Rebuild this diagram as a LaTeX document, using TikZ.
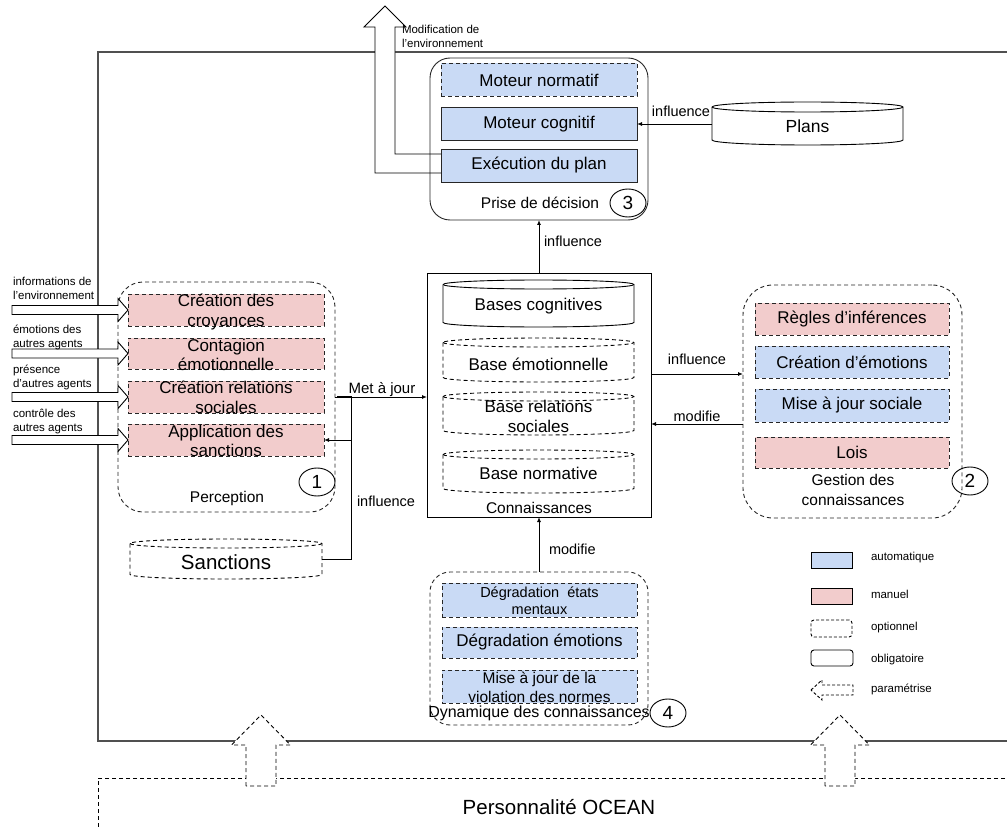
\documentclass[tikz,border=0pt]{standalone}
\usepackage{fontspec}
\setmainfont{Liberation Sans}
\usetikzlibrary{shapes.geometric,arrows.meta}
\definecolor{blueF}{HTML}{C9DAF5}
\definecolor{pinkF}{HTML}{F2CCCC}
\definecolor{frameC}{HTML}{505050}
\newcommand\myBox{\fontsize{17}{19.5}\selectfont}
\newcommand\myLab{\fontsize{15.5}{20}\selectfont}
\newcommand\myCon{\fontsize{14.5}{17}\selectfont}
\newcommand\mySm{\fontsize{11.5}{14}\selectfont}
\newcommand\myBig{\fontsize{20.5}{24}\selectfont}
\newcommand\myNum{\fontsize{19}{22}\selectfont}
\newcommand\drawcyl[4]{%
 \draw[#4] ([yshift=-#3]#1.north west) -- ([yshift=#3]#1.south west) arc[start angle=180,end angle=360,x radius=#2,y radius=#3] -- ([yshift=-#3]#1.north east) arc[start angle=0,end angle=180,x radius=#2,y radius=#3];
 \draw[#4] ([yshift=-#3]#1.north west) arc[start angle=180,end angle=360,x radius=#2,y radius=#3];}
\begin{document}
\begin{tikzpicture}[x=1pt,y=-1pt,
  every node/.style={inner sep=0pt, outer sep=0pt},
  dsh/.style={dash pattern=on 4pt off 3pt},
  bluebox/.style={draw=black!85, line width=0.9pt, fill=blueF, minimum width=196pt, minimum height=33pt, font=\myBox},
  pinkbox/.style={draw=black!85, line width=0.9pt, fill=pinkF, minimum width=196pt, minimum height=32pt, font=\myBox},
  grp/.style={draw=black!85, line width=0.9pt, rounded corners=22pt},
  num/.style={draw=black, line width=0.9pt, ellipse, minimum width=36pt, minimum height=28pt, font=\myNum},
  lab/.style={font=\myLab, align=center},
  con/.style={line width=0.9pt, -{Latex[length=5pt,width=4pt]}},
  clab/.style={font=\myCon},
  sm/.style={font=\mySm, align=left},
  bigarr/.style={draw=black, line width=0.9pt, fill=white},
  btxt/.style={font=\myBox, align=center},
]
\useasboundingbox (0,0) rectangle (1007,829);

% outer frame
\draw[frameC, line width=1.4pt] (1012,52) -- (98,52) -- (98,741) -- (1012,741);
% OCEAN
\draw[dsh, line width=0.9pt] (1012,778) -- (98,778) -- (98,835);
\node[font=\myBig] (ocean) at (559,807) {Personnalité OCEAN};
\foreach \c in {261,840}{
  \draw[dsh, line width=0.9pt, fill=white] (\c-15,786) -- (\c-15,745) -- (\c-29.5,745) -- (\c,715) -- (\c+29.5,745) -- (\c+15,745) -- (\c+15,786) -- cycle;
}

% decision
\node[grp, rounded corners=20pt, minimum width=218pt, minimum height=162pt] (dec) at (539,139) {};
\node[bluebox, dsh] (mn) at (539,80) {Moteur normatif};
\node[bluebox] (mc) at (539,124) {Moteur cognitif};
\node[bluebox] (ex) at (539,165.5) {Exécution du plan};
\node[lab] (declab) at (540,203) {Prise de décision};
\node[num] (n3) at (628,203) {3};

% modification arrow
\fill[white] (375,62) -- (375,27) -- (364,27) -- (385,6) -- (406,27) -- (395,27) -- (395,62) -- cycle;
\draw[line width=0.9pt] ([yshift=-7.5pt]ex.west) -- (375,173) -- (375,27) -- (364,27) -- (385,6) -- (406,27) -- (395,27) -- (395,154) -- ([yshift=11.5pt]ex.west);
\node[sm, anchor=north west] (modlab) at (402,25) {Modification de\\l'environnement};

% plans
\node[minimum width=191pt, minimum height=43pt] (plans) at (807.5,123.5) {};
\drawcyl{plans}{95.5pt}{5pt}{line width=0.9pt}
\node[font=\fontsize{17.5}{20}\selectfont] (plans-t) at ([yshift=-3pt]plans.center) {Plans};
\draw[con] (mc.east -| plans.west) -- (mc.east);
\node[clab, anchor=base] (l-pl) at (681,117) {influence};

% connaissances
\node[draw, line width=1pt, minimum width=224pt, minimum height=243pt] (conn) at (539,395.5) {};
\node[minimum width=191pt, minimum height=47pt] (bc) at (538.5,303.5) {};
\drawcyl{bc}{95.5pt}{4.5pt}{line width=0.9pt}
\node[btxt] (bc-t) at ([yshift=-3pt]bc.center) {Bases cognitives};
\node[minimum width=191pt, minimum height=44pt] (be) at (538.5,360) {};
\drawcyl{be}{95.5pt}{4.5pt}{line width=0.9pt, dsh}
\node[btxt] (be-t) at ([yshift=-4pt]be.center) {Base émotionnelle};
\node[minimum width=191pt, minimum height=43pt] (br) at (538.5,413.5) {};
\drawcyl{br}{95.5pt}{4.5pt}{line width=0.9pt, dsh}
\node[btxt] (br-t) at ([yshift=-3pt]br.center) {Base relations\\sociales};
\node[minimum width=191pt, minimum height=43pt] (bn) at (538.5,471.5) {};
\drawcyl{bn}{95.5pt}{4.5pt}{line width=0.9pt, dsh}
\node[btxt] (bn-t) at ([yshift=-2pt]bn.center) {Base normative};
\node[lab] (connlab) at (539,508) {Connaissances};
\draw[con] (conn.north) -- (dec.south);
\node[clab, anchor=base west] (l-cd) at (544,247) {influence};

% perception
\node[grp, dsh, rounded corners=25pt, minimum width=217pt, minimum height=230pt] (perc) at (226.5,397) {};
\node[pinkbox, dsh] (cc) at (226,310) {};
\node[btxt] (cc-t) at (226,312) {Création des\\croyances};
\node[pinkbox, dsh, minimum height=31pt] (ce) at (226,353.5) {};
\node[btxt] (ce-t) at (226,355) {Contagion\\émotionnelle};
\node[pinkbox, dsh] (cr) at (226,397) {};
\node[btxt] (cr-t) at (226,397.5) {Création relations\\sociales};
\node[pinkbox, dsh] (as) at (226,440) {};
\node[btxt] (as-t) at (226,441) {Application des\\sanctions};
\node[lab] (perclab) at (227,498) {Perception};
\node[num] (n1) at (317,482) {1};

% inputs
\foreach \b in {cc,ce,cr,as}{
  \draw[bigarr] (\b.west) -- ++(-10,-11.5) -- ++(0,7) -- ++(-106,0) -- ++(0,9) -- ++(106,0) -- ++(0,7) -- cycle;
}
\node[sm, anchor=west] (i1) at (13,288.5) {informations de\\l'environnement};
\node[sm, anchor=west] (i2) at (13,337) {émotions des\\autres agents};
\node[sm, anchor=west] (i3) at (13,377.5) {présence\\d'autres agents};
\node[sm, anchor=west] (i4) at (13,421.5) {contrôle des\\autres agents};

% sanctions
\node[minimum width=192pt, minimum height=40pt] (sanc) at (226,559) {};
\drawcyl{sanc}{96pt}{4.5pt}{line width=0.9pt, dsh}
\node[font=\myBig] (sanc-t) at ([yshift=-3.5pt]sanc.center) {Sanctions};
\coordinate (kink) at (351,396);
\draw[con] (sanc.east) -| (kink |- as.east) -- (as.east);
\draw[line width=0.9pt] (kink |- as.east) -- (kink) -- ++(-14,0);
\node[clab, anchor=base west] (l-sa) at (357,506) {influence};

% met a jour
\draw[con] (perc.east) -- (perc.east -| conn.west);
\node[clab, font=\fontsize{15}{17}\selectfont, anchor=base] (l-maj) at (382,393) {Met à jour};

% gestion
\node[grp, dsh, rounded corners=30pt, minimum width=219pt, minimum height=233pt] (gest) at (852.5,401.5) {};
\node[pinkbox, dsh, minimum width=194pt] (ri) at (852,319) {Règles d’inférences};
\node[bluebox, dsh, minimum width=194pt, minimum height=32pt] (cem) at (852,362) {Création d’émotions};
\node[bluebox, dsh, minimum width=194pt] (ms) at (852,405.5) {Mise à jour sociale};
\node[pinkbox, dsh, minimum width=194pt, minimum height=31pt] (lo) at (852,452.5) {Lois};
\node[lab] (gestlab) at (853,490) {Gestion des\\connaissances};
\node[num] (n2) at (970,481) {2};
\coordinate (ci) at ([yshift=21.5pt]conn.east);
\coordinate (cm) at ([yshift=-28.5pt]conn.east);
\draw[con] (ci) -- (ci -| gest.west);
\draw[con] (cm -| gest.west) -- (cm);
\node[clab, anchor=base] (l-gi) at (697,364) {influence};
\node[clab, anchor=base] (l-gm) at (697,421) {modifie};

% dynamique
\node[grp, dsh, rounded corners=20pt, minimum width=218pt, minimum height=153pt] (dyn) at (539,648.5) {};
\node[bluebox, dsh, minimum width=195pt, minimum height=34pt] (dem) at (539.5,600) {};
\node[font=\fontsize{14.5}{17}\selectfont, align=center] (dem-t) at (539.5,600.5) {Dégradation\ \ états\\mentaux};
\node[bluebox, dsh, minimum width=195pt, minimum height=31pt] (demo) at (539.5,642.5) {Dégradation émotions};
\node[bluebox, dsh, minimum width=195pt, minimum height=33pt] (mvn) at (539.5,686.5) {};
\node[font=\fontsize{15.5}{19}\selectfont, align=center] (mvn-t) at (539.5,687.5) {Mise à jour de la\\violation des normes};
\node[font=\fontsize{16}{18}\selectfont] (dynlab) at (539,713) {Dynamique des connaissances};
\node[num] (n4) at (668,713) {4};
\draw[con] (dyn.north) -- (conn.south);
\node[clab, anchor=base west] (l-dm) at (549,554) {modifie};

% legend
\node[draw, line width=0.9pt, fill=blueF, minimum width=41pt, minimum height=16pt] (lg1) at (831.5,560) {};
\node[sm, anchor=west] (lg1t) at (871,558) {automatique};
\node[draw, line width=0.9pt, fill=pinkF, minimum width=41pt, minimum height=16pt] (lg2) at (831.5,596) {};
\node[sm, anchor=west] (lg2t) at (871,594) {manuel};
\node[draw, line width=0.9pt, dash pattern=on 3pt off 2pt, rounded corners=3pt, minimum width=41pt, minimum height=17pt] (lg3) at (831.5,628.5) {};
\node[sm, anchor=west] (lg3t) at (871,628) {optionnel};
\node[draw, line width=0.9pt, rounded corners=3pt, minimum width=42pt, minimum height=16pt] (lg4) at (832,658) {};
\node[sm, anchor=west] (lg4t) at (871,660) {obligatoire};
\draw[line width=0.9pt, dash pattern=on 3pt off 2pt] (811,690) -- (822,680) -- (822,685) -- (853,685) -- (853,695) -- (822,695) -- (822,700) -- cycle;
\node[sm, anchor=west] (lg5t) at (871,689) {paramétrise};
\end{tikzpicture}
\end{document}
